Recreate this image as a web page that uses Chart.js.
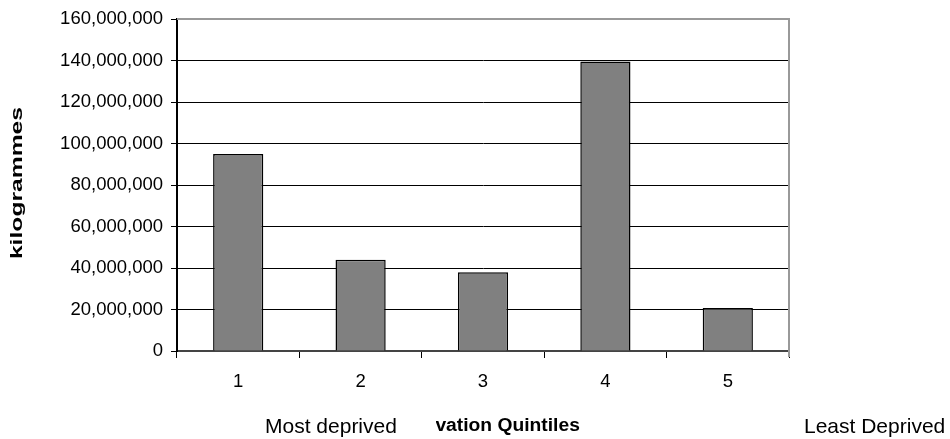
<!DOCTYPE html>
<html>
<head>
<meta charset="utf-8">
<script src="https://cdn.jsdelivr.net/npm/chart.js@4"></script>
<style>
  html, body { margin: 0; padding: 0; background: #fff; }
  #wrap { width: 950px; height: 439px; }
</style>
</head>
<body>
<div id="wrap"><canvas id="myChart"></canvas></div>
<script>
// data
const quintiles = ['1', '2', '3', '4', '5'];
const kilogrammes = [95000000, 44000000, 38000000, 139500000, 20700000];
const yTicks = [0, 20000000, 40000000, 60000000, 80000000, 100000000, 120000000, 140000000, 160000000];

const FONT = '"Liberation Sans", Arial, sans-serif';

// extra labels, stretched titles and the grey frame on top/right
const extras = {
    id: 'extras',
    afterDraw(chart) {
        const ctx = chart.ctx;
        const area = chart.chartArea;
        ctx.save();
        // frame
        ctx.strokeStyle = '#999';
        ctx.lineWidth = 2;
        ctx.beginPath();
        ctx.moveTo(area.left, area.top);
        ctx.lineTo(area.right, area.top);
        ctx.lineTo(area.right, area.bottom + 6);
        ctx.stroke();

        ctx.textBaseline = 'middle';
        ctx.textAlign = 'center';
        ctx.fillStyle = '#000';

        // y title, drawn long like the original
        ctx.save();
        ctx.translate(17, (area.top + area.bottom) / 2 - 2);
        ctx.rotate(-Math.PI / 2);
        ctx.scale(1.45, 1);
        ctx.font = 'bold 17px ' + FONT;
        ctx.fillText('kilogrammes', 0, 0);
        ctx.restore();

        // x title, partly hidden behind "Most deprived"
        ctx.save();
        ctx.translate((area.left + area.right) / 2, 426);
        ctx.scale(1.07, 1);
        ctx.font = 'bold 18px ' + FONT;
        ctx.fillText('Deprivation Quintiles', 0, 0);
        ctx.restore();

        ctx.fillStyle = '#fff';
        ctx.fillRect(258, 410, 178, 29);

        ctx.font = '21px ' + FONT;
        ctx.fillStyle = '#000';
        ctx.textAlign = 'left';
        ctx.fillText('Most deprived', 265, 427);
        ctx.fillText('Least Deprived', 804, 427);
        ctx.restore();
    }
};

const config = {
    type: 'bar',
    data: {
        labels: quintiles,
        datasets: [{
            data: kilogrammes,
            backgroundColor: '#808080',
            borderColor: '#000',
            borderWidth: 1.5,
            barPercentage: 0.41,
            categoryPercentage: 1.0,
        }]
    },
    options: {
        responsive: true,
        maintainAspectRatio: false,
        animation: false,
        layout: { padding: { top: 19, right: 161, bottom: 0, left: 0 } },
        plugins: {
            legend: { display: false },
            tooltip: { enabled: false }
        },
        scales: {
            x: {
                offset: true,
                grid: {
                    offset: true,
                    drawOnChartArea: false,
                    tickLength: 7,
                    color: '#000'
                },
                border: { color: '#444', width: 2 },
                ticks: {
                    color: '#000',
                    padding: 13,
                    font: { family: FONT, size: 18.5 }
                },
                afterFit: s => { s.height = 88; }
            },
            y: {
                min: 0,
                max: 160000000,
                afterBuildTicks: s => { s.ticks = yTicks.map(v => ({ value: v })); },
                grid: {
                    color: ctx => (ctx.tick && ctx.tick.value === 160000000 ? '#999' : '#000'),
                    tickLength: 6,
                    tickColor: '#000',
                    lineWidth: 1
                },
                border: { color: '#000', width: 2 },
                ticks: {
                    color: '#000',
                    padding: 8,
                    font: { family: FONT, size: 18.5 },
                    callback: v => v.toLocaleString('en-US')
                },
                afterFit: s => { s.width = 177; }
            }
        }
    },
    plugins: [extras]
};

const myChart = new Chart(document.getElementById('myChart'), config);
</script>
</body>
</html>
